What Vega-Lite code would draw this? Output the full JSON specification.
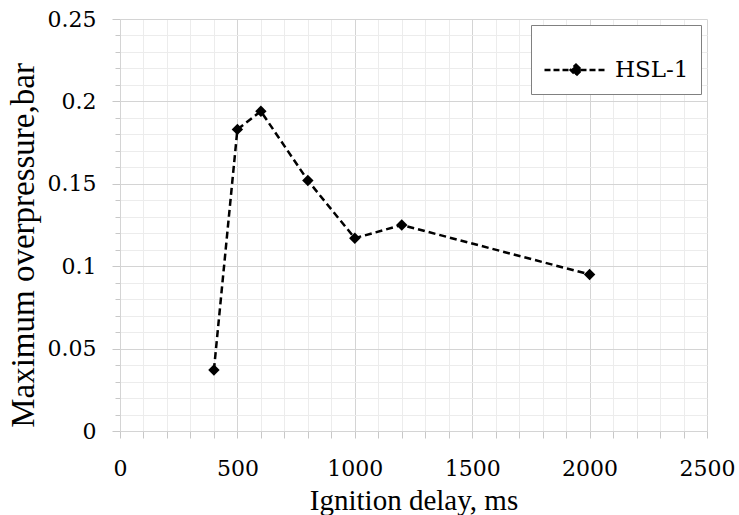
{
  "$schema": "https://vega.github.io/schema/vega-lite/v6.json",
  "autosize": {"type": "none"},
  "width": 587,
  "height": 412,
  "padding": {"left": 120, "top": 19, "right": 32, "bottom": 84},
  "background": "white",
  "config": {
    "view": {"stroke": null},
    "font": "Liberation Serif"
  },
  "data": {
    "values": [
      {"delay": 400, "pressure": 0.037, "series": "HSL-1"},
      {"delay": 500, "pressure": 0.183, "series": "HSL-1"},
      {"delay": 600, "pressure": 0.194, "series": "HSL-1"},
      {"delay": 800, "pressure": 0.152, "series": "HSL-1"},
      {"delay": 1000, "pressure": 0.117, "series": "HSL-1"},
      {"delay": 1200, "pressure": 0.125, "series": "HSL-1"},
      {"delay": 2000, "pressure": 0.095, "series": "HSL-1"}
    ]
  },
  "encoding": {
    "x": {
      "field": "delay",
      "type": "quantitative",
      "scale": {"domain": [0, 2500], "nice": false, "zero": true},
      "axis": {
        "title": "Ignition delay, ms",
        "values": [0,100,200,300,400,500,600,700,800,900,1000,1100,1200,1300,1400,1500,1600,1700,1800,1900,2000,2100,2200,2300,2400,2500],
        "labelExpr": "datum.value % 500 === 0 ? format(datum.value, 'd') : ''",
        "grid": true,
        "gridColor": {"condition": {"test": "datum.value % 500 === 0", "value": "#d4d4d4"}, "value": "#ececec"},
        "gridWidth": 1,
        "domainColor": "#d4d4d4",
        "tickColor": "#c8c8c8",
        "tickSize": 7,
        "labelFont": "DejaVu Serif",
        "labelFontSize": 22,
        "labelColor": "black",
        "labelPadding": 20,
        "labelFlush": false,
        "labelOverlap": false,
        "titleFont": "Liberation Serif",
        "titleFontSize": 29,
        "titleFontWeight": "normal",
        "titleColor": "black",
        "titleY": 78,
        "titleBaseline": "alphabetic"
      }
    },
    "y": {
      "field": "pressure",
      "type": "quantitative",
      "scale": {"domain": [0, 0.25], "nice": false},
      "axis": {
        "title": "Maximum  overpressure,bar",
        "values": [0,0.01,0.02,0.03,0.04,0.05,0.06,0.07,0.08,0.09,0.1,0.11,0.12,0.13,0.14,0.15,0.16,0.17,0.18,0.19,0.2,0.21,0.22,0.23,0.24,0.25],
        "labelExpr": "round(datum.value * 100) % 5 === 0 ? format(datum.value, '~g') : ''",
        "grid": true,
        "gridColor": {"condition": {"test": "round(datum.value * 100) % 5 === 0", "value": "#d4d4d4"}, "value": "#ececec"},
        "gridWidth": 1,
        "domainColor": "#d4d4d4",
        "tickColor": "#c8c8c8",
        "tickSize": {"condition": {"test": "round(datum.value * 100) % 5 === 0", "value": 8}, "value": 5},
        "labelFont": "DejaVu Serif",
        "labelFontSize": 22,
        "labelColor": "black",
        "labelPadding": 16,
        "labelFlush": false,
        "labelOverlap": false,
        "titleFont": "Liberation Serif",
        "titleFontSize": 33,
        "titleFontWeight": "normal",
        "titleColor": "black",
        "titleX": -80,
        "titleY": 226,
        "titleBaseline": "bottom"
      }
    }
  },
  "layer": [
    {
      "mark": {"type": "line", "strokeDash": [7, 4], "strokeWidth": 2.5},
      "encoding": {
        "color": {
          "field": "series",
          "type": "nominal",
          "scale": {"range": ["black"]},
          "legend": {
            "title": null,
            "orient": "top-right",
            "offset": 6,
            "symbolType": "M-1,0L1,0M0,-0.17L0.17,0L0,0.17L-0.17,0Z",
            "symbolSize": 3969,
            "symbolDash": [6, 3],
            "symbolStrokeWidth": 2.5,
            "symbolStrokeColor": "black",
            "symbolFillColor": "black",
            "labelFont": "DejaVu Serif",
            "labelFontSize": 23,
            "labelColor": "black",
            "labelOffset": 6,
            "labelLimit": 300,
            "padding": 12,
            "strokeColor": "#808080",
            "fillColor": "white"
          }
        }
      }
    },
    {
      "mark": {"type": "point", "shape": "diamond", "filled": true, "size": 130, "color": "black", "opacity": 1}
    }
  ]
}
